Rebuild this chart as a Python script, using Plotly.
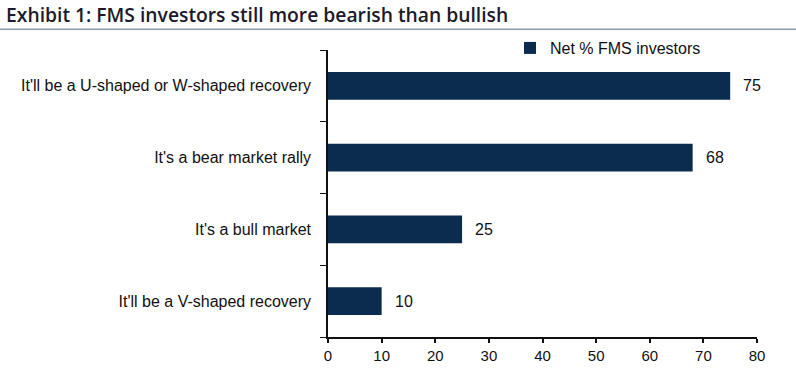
import plotly.graph_objects as go

categories = ["It'll be a V-shaped recovery", "It's a bull market", "It's a bear market rally",
              "It'll be a U-shaped or W-shaped recovery"]
values = [10, 25, 68, 75]
series_name = "Net % FMS investors"
x_ticks = [0, 10, 20, 30, 40, 50, 60, 70, 80]
title = "Exhibit 1: FMS investors still more bearish than bullish"

W, H = 796, 376
L, R, T, B = 328, 39, 50, 35
BAR = "#0b2b4f"
FONT = "Liberation Sans, Arial"

fig = go.Figure()
fig.add_trace(go.Bar(
    y=categories, x=values, orientation="h", name=series_name,
    marker=dict(color=BAR, line=dict(width=0)), width=0.39, showlegend=True,
))
for c, v in zip(categories, values):
    fig.add_annotation(x=v, y=c, text=str(v), showarrow=False, xanchor="left",
                       xshift=11, font=dict(family=FONT, size=16, color="#111"))

pw = W - L - R
ph = H - T - B
line_y = (H - B - 29) / ph
fig.add_shape(type="line", xref="paper", yref="paper",
              x0=-L / pw, x1=(W - L) / pw, y0=line_y, y1=line_y,
              line=dict(color="#8d9aa8", width=1.5))
fig.add_annotation(xref="paper", yref="paper", x=(4 - L) / pw, y=(H - B - 14) / ph,
                   xanchor="left", yanchor="middle", showarrow=False, text=title,
                   font=dict(family="Open Sans", size=19.3, color="#1a1a2a", weight=600))

fig.update_layout(
    width=W, height=H, margin=dict(l=L, r=R, t=T, b=B),
    paper_bgcolor="white", plot_bgcolor="white",
    font=dict(family=FONT, size=15, color="#111"),
    legend=dict(x=(510 - L) / pw, y=1 + 2 / ph, xanchor="left", yanchor="middle",
                orientation="h", itemwidth=30,
                font=dict(size=16), bgcolor="rgba(0,0,0,0)"),
    xaxis=dict(range=[0, 80], tickvals=x_ticks, showgrid=False, zeroline=False,
               showline=True, linecolor="#111", linewidth=1.5, ticks="outside",
               ticklen=4, tickcolor="#111", tickwidth=1.5, fixedrange=True,
               tickfont=dict(size=15)),
    yaxis=dict(categoryorder="array", categoryarray=categories, showgrid=False,
               showline=True, linecolor="#111", linewidth=1.5, ticks="outside",
               tickson="boundaries", ticklen=6, tickcolor="#111", tickwidth=1,
               ticklabelstandoff=12, range=[-0.5, 3.5], fixedrange=True,
               tickfont=dict(size=16)),
    bargap=0.6,
)
fig.write_html("out.html", config={"displayModeBar": False},
               post_script="document.body.style.margin='0';")
